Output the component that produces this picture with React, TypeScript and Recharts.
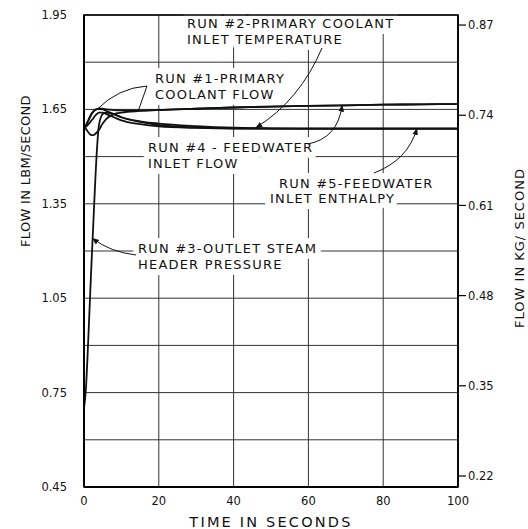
import React from 'react'
import { LineChart, Line, XAxis, YAxis, CartesianGrid } from 'recharts'

// time base shared by all five runs (seconds)
const TIME = [0, 0.5, 1, 1.5, 2, 2.5, 3, 3.5, 4, 5, 6, 8, 10, 15, 20, 30, 40, 50, 60, 70, 80, 90, 100]

// flow in lbm/second
const RUN1_COOLANT_FLOW = [1.59, 1.598, 1.61, 1.622, 1.635, 1.643, 1.648, 1.651, 1.652, 1.652, 1.65, 1.648, 1.647, 1.647, 1.648, 1.652, 1.656, 1.659, 1.661, 1.663, 1.665, 1.666, 1.667]
const RUN2_COOLANT_TEMP = [1.59, 1.6, 1.612, 1.625, 1.636, 1.644, 1.649, 1.651, 1.652, 1.65, 1.645, 1.635, 1.625, 1.612, 1.605, 1.597, 1.592, 1.59, 1.589, 1.589, 1.589, 1.589, 1.589]
const RUN3_STEAM_PRESSURE = [0.7, 0.76, 0.88, 1.02, 1.16, 1.29, 1.42, 1.53, 1.6, 1.635, 1.64, 1.635, 1.625, 1.61, 1.6, 1.593, 1.59, 1.589, 1.589, 1.589, 1.589, 1.589, 1.589]
const RUN4_FEEDWATER_FLOW = [1.595, 1.588, 1.58, 1.572, 1.568, 1.568, 1.572, 1.578, 1.585, 1.605, 1.62, 1.635, 1.64, 1.645, 1.648, 1.652, 1.656, 1.659, 1.661, 1.663, 1.665, 1.666, 1.667]
const RUN5_FEEDWATER_ENTHALPY = [1.59, 1.595, 1.6, 1.607, 1.615, 1.622, 1.63, 1.636, 1.64, 1.64, 1.635, 1.625, 1.615, 1.603, 1.596, 1.591, 1.589, 1.589, 1.589, 1.589, 1.589, 1.589, 1.589]

const X_TICKS = [0, 20, 40, 60, 80, 100]
const LBM_TICKS = [0.45, 0.6, 0.75, 0.9, 1.05, 1.2, 1.35, 1.5, 1.65, 1.8, 1.95]
const LBM_LABELS = [0.45, 0.75, 1.05, 1.35, 1.65, 1.95]
const KG_TICKS = [0.22, 0.35, 0.48, 0.61, 0.74, 0.87]
const LBM_TO_KG = 0.45359

const data = TIME.map((t, i) => ({
  t,
  run1: RUN1_COOLANT_FLOW[i],
  run2: RUN2_COOLANT_TEMP[i],
  run3: RUN3_STEAM_PRESSURE[i],
  run4: RUN4_FEEDWATER_FLOW[i],
  run5: RUN5_FEEDWATER_ENTHALPY[i],
}))

const W = 528
const H = 529
const PLOT = { left: 84, right: 458, top: 15, bottom: 487 }
const FONT = '"DejaVu Sans", Verdana, sans-serif'

// data -> pixel, used only to aim the annotation leaders
const px = (t: number) => PLOT.left + (t / 100) * (PLOT.right - PLOT.left)
const py = (v: number) => PLOT.bottom - ((v - 0.45) / 1.5) * (PLOT.bottom - PLOT.top)

const SERIES = ['run1', 'run2', 'run3', 'run4', 'run5']

function Note({ x, y, lines }: { x: number; y: number; lines: string[] }) {
  return (
    <>
      {lines.map((s, i) => (
        <text
          key={i}
          x={x}
          y={y + i * 16}
          fontSize={13}
          letterSpacing={1.2}
          fill="#111"
          stroke="#fff"
          strokeWidth={12}
          strokeLinejoin="round"
          paintOrder="stroke"
          fontFamily={FONT}
        >
          {s}
        </text>
      ))}
    </>
  )
}

export default function App() {
  return (
    <div style={{ position: 'absolute', left: 0, top: 0, width: W, height: H, background: '#fff' }}>
      <LineChart width={W} height={H} data={data} margin={{ top: PLOT.top, right: 0, bottom: 12, left: 0 }}>
        <CartesianGrid yAxisId="lbm" stroke="#333" strokeWidth={1} />
        <XAxis
          dataKey="t"
          type="number"
          domain={[0, 100]}
          ticks={X_TICKS}
          height={30}
          tickLine={false}
          tickMargin={4}
          axisLine={{ stroke: '#000', strokeWidth: 2 }}
          tick={{ fill: '#111', fontSize: 11.5, fontFamily: FONT }}
        />
        <YAxis
          yAxisId="lbm"
          type="number"
          domain={[0.45, 1.95]}
          ticks={LBM_TICKS}
          interval={0}
          width={84}
          tickLine={false}
          tickMargin={11}
          axisLine={{ stroke: '#000', strokeWidth: 2 }}
          tickFormatter={(v: number) => (LBM_LABELS.some((l) => Math.abs(l - v) < 1e-6) ? v.toFixed(2) : '')}
          tick={{ fill: '#111', fontSize: 11.5, fontFamily: FONT }}
        />
        <YAxis
          yAxisId="kg"
          orientation="right"
          type="number"
          domain={[0.45 * LBM_TO_KG, 1.95 * LBM_TO_KG]}
          allowDataOverflow
          ticks={KG_TICKS}
          interval={0}
          width={70}
          tickSize={8}
          tickMargin={2}
          tickLine={{ stroke: '#000', strokeWidth: 1.2 }}
          axisLine={{ stroke: '#000', strokeWidth: 1.5 }}
          tickFormatter={(v: number) => v.toFixed(2)}
          tick={{ fill: '#111', fontSize: 11.5, fontFamily: FONT }}
        />
        {SERIES.map((k) => (
          <Line
            key={k}
            yAxisId="lbm"
            dataKey={k}
            type="monotone"
            stroke="#111"
            strokeWidth={1.8}
            dot={false}
            isAnimationActive={false}
          />
        ))}
      </LineChart>

      <svg width={W} height={H} style={{ position: 'absolute', left: 0, top: 0, pointerEvents: 'none' }}>
        <defs>
          <marker id="arr" viewBox="0 0 10 10" refX="9" refY="5" markerWidth="7" markerHeight="7" orient="auto">
            <path d="M0,1 L10,5 L0,9 Z" fill="#111" />
          </marker>
        </defs>

        <Note x={187} y={28} lines={['RUN #2-PRIMARY COOLANT', 'INLET TEMPERATURE']} />
        <Note x={155} y={83} lines={['RUN #1-PRIMARY', 'COOLANT FLOW']} />
        <Note x={148} y={152} lines={['RUN #4 - FEEDWATER', 'INLET FLOW']} />
        <Note x={279} y={188} lines={['RUN #5-FEEDWATER']} />
        <Note x={270} y={203} lines={['INLET ENTHALPY']} />
        <Note x={138} y={253} lines={['RUN #3-OUTLET STEAM', 'HEADER PRESSURE']} />

        <g fill="none" stroke="#111" strokeWidth={1}>
          <path d={`M322,48 Q300,100 ${px(46)},${py(1.592)}`} markerEnd="url(#arr)" />
          <path d={`M147,86 Q118,88 ${px(3.5)},${py(1.65)}`} />
          <path d={`M147,86 L${px(14.5)},${py(1.645)}`} />
          <path d={`M308,144 Q338,138 ${px(69)},${py(1.663)}`} markerEnd="url(#arr)" />
          <path d={`M374,173 Q408,160 ${px(89)},${py(1.589)}`} markerEnd="url(#arr)" />
          <path d={`M136,255 Q110,252 ${px(2.3)},${py(1.24)}`} markerEnd="url(#arr)" />
        </g>

        {/* plot frame redrawn over the label halos */}
        <rect
          x={PLOT.left}
          y={PLOT.top}
          width={PLOT.right - PLOT.left}
          height={PLOT.bottom - PLOT.top}
          fill="none"
          stroke="#000"
          strokeWidth={1.5}
        />

        <text
          x={(PLOT.left + PLOT.right) / 2}
          y={527}
          textAnchor="middle"
          fontSize={14.5}
          letterSpacing={2.2}
          fill="#111"
          fontFamily={FONT}
        >
          TIME IN SECONDS
        </text>
        <text
          transform="translate(30,171) rotate(-90)"
          textAnchor="middle"
          fontSize={13}
          letterSpacing={0.3}
          fill="#111"
          fontFamily={FONT}
        >
          FLOW IN LBM/SECOND
        </text>
        <text
          transform="translate(524,248) rotate(-90)"
          textAnchor="middle"
          fontSize={13}
          letterSpacing={1}
          fill="#111"
          fontFamily={FONT}
        >
          FLOW IN KG/ SECOND
        </text>
      </svg>
    </div>
  )
}
